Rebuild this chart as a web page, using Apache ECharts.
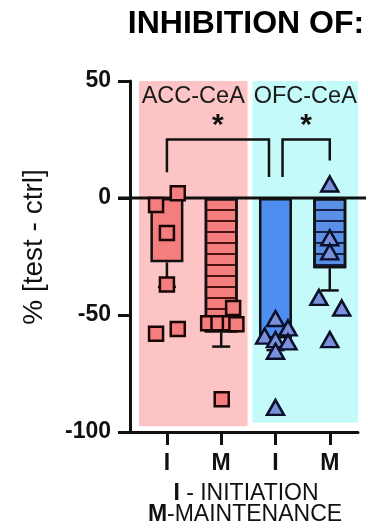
<!DOCTYPE html>
<html><head><meta charset="utf-8">
<script src="https://cdn.jsdelivr.net/npm/echarts@6/dist/echarts.min.js"></script>
<style>html,body{margin:0;padding:0;background:#fff}#c{width:368px;height:531px}</style>
</head><body><div id="c"></div>
<script>
// ---- data ----
const categories = ['I', 'M', 'I', 'M'];
const regions = ['ACC-CeA', 'OFC-CeA'];
const barMeans = [-27.5, -57.5, -60, -30];
const barErrors = [10.5, 6, 5, 9.5];
const accIPoints = [-3, 2, -15, -37, -58, -56];
const accIJitter = [-0.2, 0.2, 0, 0, -0.2, 0.2];
const accMPoints = [-47, -53.5, -53.5, -53.5, -54, -86];
const accMJitter = [0.22, -0.24, -0.05, 0.16, 0.28, 0.01];
const ofcIPoints = [-51.5, -55.5, -59, -60.5, -61.5, -65.5, -89.5];
const ofcIJitter = [0, 0.23, -0.2, 0, 0.23, 0, 0];
const ofcMPoints = [6, -17, -23, -42.5, -47, -60.5];
const ofcMJitter = [0, 0, 0, -0.2, 0.22, 0];
const yTicks = [-100, -50, 0, 50];
const bracketX = [[1, 2.88], [3.13, 4]];
const bracketTop = [25, 25];
const bracketEnds = [[11, 9], [9, 16]];
const sigMarks = ['*', '*'];
const regionSpans = [[0.485, 2.485], [2.577, 4.52]];
const regionY = [50, -97.5];

// ---- styles ----
const FONT = 'Liberation Sans, Arial, sans-serif';
const INK = '#111';
const pinkBg = '#FCC4C4', cyanBg = '#C4FAFA';
const accFill = '#F47D7D', ofcIFill = '#4D8EF0', ofcMFill = '#5A8FE6', triFill = '#7891DA';
const barFills = [accFill, accFill, ofcIFill, ofcMFill];
const stripeColors = [null, '#4a1212', null, '#16214a'];
const X_MIN = 0.32, X_MAX = 4.52;

const chart = echarts.init(document.getElementById('c'), null, {renderer: 'canvas'});

const barData = barMeans.map((v, i) => {
  const st = {color: barFills[i]};
  if (stripeColors[i]) {
    st.decal = {symbol: 'rect', symbolSize: 1, dashArrayX: [1, 0], dashArrayY: [2, 8.5],
      rotation: 0, color: stripeColors[i]};
  }
  return {value: [i + 1, v], itemStyle: st};
});

function pts(vals, jit, center) { return vals.map((v, k) => [center + jit[k], v]); }

const option = {
  animation: false,
  backgroundColor: '#fff',
  grid: {left: 130, right: 10, top: 81, bottom: 99, containLabel: false},
  xAxis: {
    type: 'value', min: X_MIN, max: X_MAX,
    splitLine: {show: false},
    axisLine: {show: true, onZero: false, lineStyle: {color: INK, width: 3}},
    axisTick: {show: true, customValues: [1, 2, 3, 4], length: 13, lineStyle: {color: INK, width: 3}},
    axisLabel: {show: true, customValues: [1, 2, 3, 4], margin: 20,
      formatter: v => categories[Math.round(v) - 1] || '',
      fontFamily: FONT, fontWeight: 'bold', fontSize: 23, color: INK}
  },
  yAxis: {
    type: 'value', min: -100, max: 50, interval: 50,
    splitLine: {show: false},
    axisLine: {show: true, lineStyle: {color: INK, width: 3}},
    axisTick: {show: true, length: 12, lineStyle: {color: INK, width: 3}},
    axisLabel: {margin: 19, fontFamily: FONT, fontWeight: 'bold', fontSize: 23, color: INK,
      formatter: v => yTicks.includes(v) ? String(v) : ''}
  },
  series: [
    {
      type: 'scatter', data: [], z: 1, silent: true,
      markArea: {
        silent: true,
        label: {show: true, position: 'insideTop', distance: 4, fontFamily: FONT, fontSize: 23.5, color: '#1a1a1a'},
        data: regions.map((name, i) => [
          {name: name, coord: [regionSpans[i][0], regionY[0]], itemStyle: {color: i === 0 ? pinkBg : cyanBg}},
          {coord: [regionSpans[i][1], i === 0 ? regionY[1] : regionY[1] + 1.5]}
        ])
      }
    },
    {
      type: 'bar', z: 2, barWidth: 33, data: barData, silent: true,
      itemStyle: {borderColor: INK, borderWidth: 2.5}
    },
    {
      type: 'custom', z: 3, silent: true,
      data: barMeans.map((m, i) => [i + 1, m, barErrors[i]]),
      encode: {x: 0, y: 1},
      renderItem(params, api) {
        const x = api.value(0), m = api.value(1), e = api.value(2);
        const p0 = api.coord([x, m]), p1 = api.coord([x, m - e]);
        return {type: 'group', children: [
          {type: 'line', shape: {x1: p0[0], y1: p0[1], x2: p1[0], y2: p1[1]}, style: {stroke: INK, lineWidth: 2.5}},
          {type: 'line', shape: {x1: p1[0] - 9, y1: p1[1], x2: p1[0] + 9, y2: p1[1]}, style: {stroke: INK, lineWidth: 2.5}}
        ]};
      }
    },
    {
      type: 'custom', z: 5, silent: true,
      data: [[0]],
      encode: {y: 0},
      renderItem(params, api) {
        const a = api.coord([X_MIN, api.value(0)]), b = api.coord([X_MAX, api.value(0)]);
        return {type: 'line', shape: {x1: a[0] - 12, y1: a[1], x2: b[0] + 8, y2: b[1]}, style: {stroke: INK, lineWidth: 3}};
      }
    },
    {
      type: 'custom', z: 5, silent: true,
      data: bracketX.map((b, i) => [b[0], b[1], bracketTop[i], bracketEnds[i][0], bracketEnds[i][1]]),
      encode: {x: [0, 1], y: [2, 3, 4]},
      renderItem(params, api) {
        const x0 = api.value(0), x1 = api.value(1), yt = api.value(2), yl = api.value(3), yr = api.value(4);
        const a = api.coord([x0, yl]), b = api.coord([x0, yt]), c = api.coord([x1, yt]), d = api.coord([x1, yr]);
        return {type: 'group', children: [
          {type: 'polyline', shape: {points: [a, b, c, d]}, style: {stroke: INK, lineWidth: 2.5, fill: null}},
          {type: 'text', x: (b[0] + c[0]) / 2, y: b[1] - 14,
           style: {text: sigMarks[params.dataIndex], align: 'center', verticalAlign: 'middle',
                   font: 'bold 30px ' + FONT, fill: INK}}
        ]};
      }
    },
    {
      type: 'scatter', z: 6, silent: true, symbol: 'rect', symbolSize: 14,
      itemStyle: {color: accFill, borderColor: '#1a0505', borderWidth: 2.5, opacity: 1},
      data: pts(accIPoints, accIJitter, 1).concat(pts(accMPoints, accMJitter, 2))
    },
    {
      type: 'scatter', z: 6, silent: true, symbol: 'triangle', symbolSize: [17, 15],
      itemStyle: {color: triFill, borderColor: '#0a0f2a', borderWidth: 2.5, opacity: 1},
      data: pts(ofcIPoints, ofcIJitter, 3).concat(pts(ofcMPoints, ofcMJitter, 4))
    }
  ],
  graphic: [
    {type: 'text', x: 246, y: 24, style: {text: 'INHIBITION OF:', align: 'center', verticalAlign: 'middle',
      font: 'bold 32px ' + FONT, fill: '#000'}},
    {type: 'text', x: 34, y: 247, rotation: Math.PI / 2, style: {text: '% [test - ctrl]', align: 'center', verticalAlign: 'middle',
      font: '28px ' + FONT, fill: '#111'}},
    {type: 'text', x: 246, y: 494, style: {text: '{b|I} - INITIATION', align: 'center', verticalAlign: 'middle',
      font: '23px ' + FONT, fill: '#111', rich: {b: {fontWeight: 'bold', fontSize: 23, fontFamily: FONT}}}},
    {type: 'text', x: 245, y: 515, style: {text: '{b|M}-MAINTENANCE', align: 'center', verticalAlign: 'middle',
      font: '23px ' + FONT, fill: '#111', rich: {b: {fontWeight: 'bold', fontSize: 23, fontFamily: FONT}}}}
  ]
};
chart.setOption(option);
</script>
</body></html>
